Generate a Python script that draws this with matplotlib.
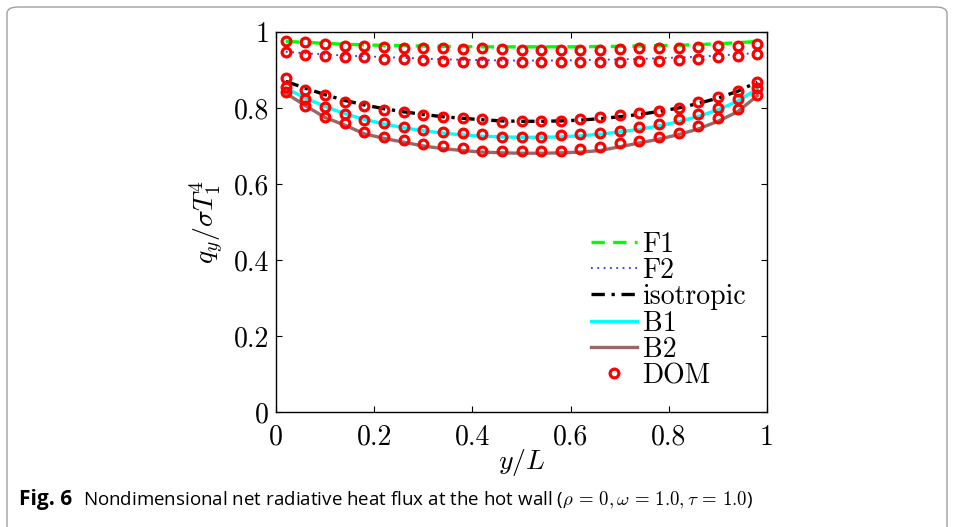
import matplotlib
matplotlib.use('Agg')
import matplotlib.pyplot as plt
from matplotlib.patches import FancyBboxPatch

plt.rcParams['font.family'] = ['cmr10', 'DejaVu Serif']
plt.rcParams['mathtext.fontset'] = 'cm'
plt.rcParams['axes.formatter.use_mathtext'] = True

# ---------------- data ----------------
y_L = [0.02, 0.06, 0.10, 0.14, 0.18, 0.22, 0.26, 0.30, 0.34, 0.38, 0.42, 0.46, 0.50,
       0.54, 0.58, 0.62, 0.66, 0.70, 0.74, 0.78, 0.82, 0.86, 0.90, 0.94, 0.98]

F1_line = [0.975, 0.973, 0.970, 0.968, 0.966, 0.965, 0.964, 0.963, 0.962, 0.962, 0.961, 0.961, 0.961,
           0.961, 0.961, 0.961, 0.962, 0.962, 0.963, 0.964, 0.965, 0.967, 0.969, 0.972, 0.975]
F2_line = [0.948, 0.944, 0.941, 0.938, 0.936, 0.934, 0.932, 0.930, 0.928, 0.927, 0.926, 0.925, 0.925,
           0.925, 0.925, 0.926, 0.927, 0.928, 0.929, 0.931, 0.933, 0.935, 0.938, 0.941, 0.945]
iso_line = [0.870, 0.852, 0.835, 0.820, 0.808, 0.798, 0.790, 0.783, 0.777, 0.773, 0.769, 0.766, 0.765,
            0.765, 0.766, 0.768, 0.772, 0.777, 0.783, 0.791, 0.800, 0.812, 0.826, 0.844, 0.868]
B1_line = [0.852, 0.826, 0.804, 0.785, 0.770, 0.758, 0.748, 0.740, 0.734, 0.729, 0.726, 0.724, 0.723,
           0.723, 0.724, 0.727, 0.731, 0.737, 0.744, 0.753, 0.764, 0.778, 0.795, 0.818, 0.850]
B2_line = [0.839, 0.806, 0.775, 0.755, 0.732, 0.720, 0.710, 0.700, 0.693, 0.688, 0.684, 0.682, 0.681,
           0.681, 0.682, 0.684, 0.688, 0.698, 0.708, 0.718, 0.730, 0.745, 0.765, 0.790, 0.832]

F1_dom = [0.976, 0.973, 0.968, 0.964, 0.964, 0.961, 0.959, 0.957, 0.957, 0.955, 0.957, 0.955, 0.953,
          0.953, 0.953, 0.953, 0.953, 0.955, 0.957, 0.957, 0.959, 0.961, 0.964, 0.964, 0.968]
F2_dom = [0.947, 0.940, 0.937, 0.934, 0.933, 0.929, 0.928, 0.926, 0.924, 0.922, 0.922, 0.921, 0.921,
          0.921, 0.921, 0.921, 0.922, 0.922, 0.924, 0.925, 0.927, 0.930, 0.933, 0.936, 0.942]
iso_dom = [0.878, 0.847, 0.834, 0.817, 0.806, 0.795, 0.790, 0.782, 0.777, 0.773, 0.770, 0.764, 0.767,
           0.767, 0.767, 0.770, 0.776, 0.782, 0.786, 0.792, 0.799, 0.815, 0.830, 0.846, 0.869]
B1_dom = [0.855, 0.823, 0.803, 0.783, 0.768, 0.760, 0.751, 0.742, 0.736, 0.733, 0.731, 0.725, 0.723,
          0.725, 0.729, 0.732, 0.735, 0.740, 0.749, 0.758, 0.770, 0.783, 0.801, 0.823, 0.852]
B2_dom = [0.843, 0.805, 0.777, 0.760, 0.738, 0.725, 0.716, 0.705, 0.700, 0.694, 0.687, 0.688, 0.688,
          0.688, 0.688, 0.691, 0.697, 0.709, 0.713, 0.723, 0.735, 0.753, 0.773, 0.797, 0.834]

x_ticks = [0, 0.2, 0.4, 0.6, 0.8, 1]
x_ticklabels = ['0', '0.2', '0.4', '0.6', '0.8', '1']
y_ticks = [0, 0.2, 0.4, 0.6, 0.8, 1]
y_ticklabels = ['0', '0.2', '0.4', '0.6', '0.8', '1']

series_labels = ['F1', 'F2', 'isotropic', 'B1', 'B2', 'DOM']
caption_bold = 'Fig. 6'
caption_text = r'Nondimensional net radiative heat flux at the hot wall ($\rho\,=\,0,\omega\,=\,1.0,\tau\,=\,1.0$)'

# ---------------- figure ----------------
W, H = 954, 527
fig = plt.figure(figsize=(W / 100, H / 100), dpi=100)

# rounded frame around the figure panel (open at the bottom edge of the image)
frame = FancyBboxPatch((7 / W, -30 / H), 940 / W, (527 - 7 + 30) / H,
                       boxstyle='round,pad=0,rounding_size=0.012',
                       transform=fig.transFigure, fill=False,
                       edgecolor='#a0a0a0', linewidth=1.0, clip_on=False)
fig.patches.append(frame)

ax = fig.add_axes([276 / W, (H - 412) / H, (767 - 276) / W, (412 - 32) / H])

lw = 2.4
ax.plot(y_L, F1_line, color='#00ff00', linestyle=(0, (4, 2.5)), linewidth=lw, label=series_labels[0])
ax.plot(y_L, F2_line, color='#3030ff', linestyle=(0, (1, 2.5)), linewidth=1.3, label=series_labels[1])
ax.plot(y_L, iso_line, color='black', linestyle=(0, (4, 2, 1, 2)), linewidth=lw, label=series_labels[2])
ax.plot(y_L, B1_line, color='#00ffff', linestyle='-', linewidth=lw, label=series_labels[3])
ax.plot(y_L, B2_line, color='#986868', linestyle='-', linewidth=lw, label=series_labels[4])

mk = dict(linestyle='none', marker='o', markersize=6.3, markerfacecolor='none',
          markeredgecolor='#ff0000', markeredgewidth=2.3)
ax.plot(y_L, F1_dom, label=series_labels[5], **mk)
for s in (F2_dom, iso_dom, B1_dom, B2_dom):
    ax.plot(y_L, s, **mk)

ax.set_xlim(0, 1)
ax.set_ylim(0, 1)
ax.set_xticks(x_ticks)
ax.set_xticklabels(x_ticklabels)
ax.set_yticks(y_ticks)
ax.set_yticklabels(y_ticklabels)
ax.tick_params(direction='in', top=True, right=True, length=4, width=0.8,
               labelsize=20, colors='black')
ax.tick_params(axis='x', pad=9)
ax.tick_params(axis='y', pad=5)
for sp in ax.spines.values():
    sp.set_linewidth(1.0)

ax.set_xlabel(r'$y/L$', fontsize=20, labelpad=-3)
ax.set_ylabel(r'$q_y/\sigma T_1^4$', fontsize=20, labelpad=6)

leg = ax.legend(loc='lower left', bbox_to_anchor=(0.642, 0.06), frameon=False,
                fontsize=20, handlelength=1.65, handletextpad=0.2, labelspacing=0.0,
                borderpad=0, borderaxespad=0, numpoints=1)

cap_fam = ['Open Sans', 'DejaVu Sans']
fig.text(19 / W, 1 - 500 / H, caption_bold, fontsize=15, fontweight='bold',
         family=cap_fam, va='center', ha='left')
fig.text(83 / W, 1 - 500 / H, caption_text, fontsize=13.5,
         family=cap_fam, va='center', ha='left')

fig.savefig('out.png', dpi=100)
